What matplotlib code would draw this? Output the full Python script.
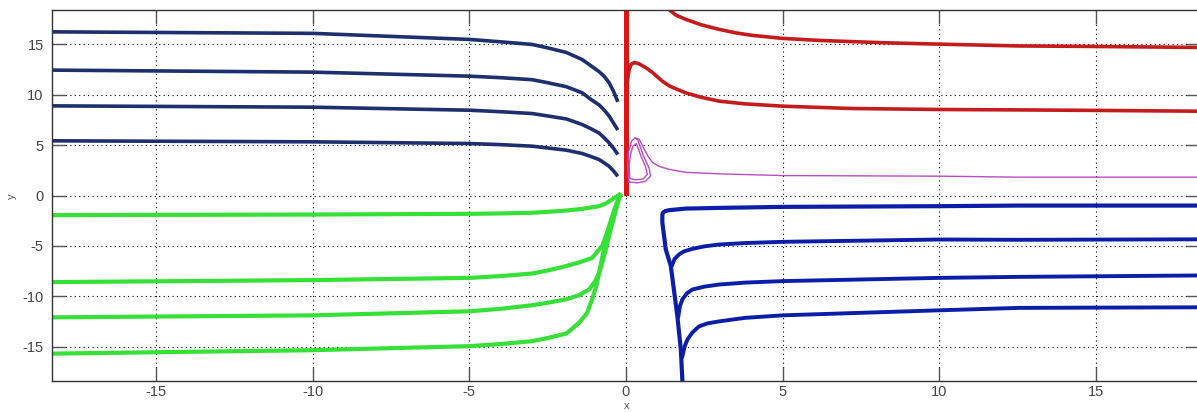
import matplotlib
matplotlib.use("Agg")
import matplotlib.pyplot as plt

plt.rcParams["font.family"] = ["Liberation Sans", "DejaVu Sans"]
plt.rcParams["axes.unicode_minus"] = False

# --- data --------------------------------------------------------------
# navy trajectories, upper-left quadrant
navy_x = [-18.3, -10.0, -5.0, -4.0, -3.0, -2.5, -1.9, -1.4, -1.1, -0.86, -0.7, -0.54, -0.4, -0.26]
navy_y = [
    [16.25, 16.1, 15.5, 15.26, 15.0, 14.66, 14.2, 13.5, 12.84, 12.3, 11.85, 11.2, 10.36, 9.3],
    [12.45, 12.25, 11.85, 11.7, 11.5, 11.2, 10.8, 10.2, 9.5, 9.0, 8.5, 7.9, 7.2, 6.5],
    [8.9, 8.77, 8.47, 8.32, 8.14, 7.9, 7.6, 7.05, 6.6, 6.2, 5.75, 5.23, 4.7, 4.07],
    [5.43, 5.33, 5.16, 5.05, 4.9, 4.72, 4.5, 4.17, 3.85, 3.57, 3.25, 2.9, 2.45, 1.9],
]

# green trajectories, lower-left quadrant (all end near the origin)
green_x = [
    [-18.3, -10.0, -5.0, -4.0, -3.0, -2.5, -1.9, -1.4, -0.86, -0.65, -0.45, -0.3, -0.17],
    [-18.3, -10.0, -5.0, -4.0, -3.0, -2.5, -1.9, -1.5, -1.08, -0.76, -0.65, -0.54,
     -0.45, -0.36, -0.26, -0.17],
    [-18.3, -10.0, -5.0, -4.0, -3.0, -2.5, -1.9, -1.5, -1.18, -1.0, -0.86, -0.78,
     -0.7, -0.5, -0.3, -0.17],
    [-18.3, -10.0, -5.0, -4.0, -3.0, -2.5, -1.9, -1.5, -1.25, -1.08, -0.95, -0.86,
     -0.75, -0.65, -0.5, -0.36, -0.17],
]
green_y = [
    [-1.95, -1.89, -1.82, -1.78, -1.72, -1.62, -1.49, -1.33, -1.06, -0.8, -0.4, -0.1, 0.2],
    [-8.6, -8.4, -8.18, -8.0, -7.75, -7.45, -7.0, -6.65, -6.2, -5.0, -4.1, -3.05,
     -2.2, -1.3, -0.5, 0.2],
    [-12.1, -11.9, -11.5, -11.25, -10.9, -10.65, -10.3, -9.9, -9.33, -8.6, -7.7, -6.9,
     -6.0, -3.5, -1.2, 0.2],
    [-15.7, -15.36, -14.96, -14.75, -14.47, -14.15, -13.7, -12.65, -11.7, -10.3, -9.0,
     -7.7, -6.0, -4.4, -2.8, -1.4, 0.2],
]

# red: vertical segment on x = 0 and two trajectories to the right
red_vert_y = [0.2, 18.42]
red_a_x = [1.37, 1.6, 1.9, 2.4, 2.97, 3.5, 4.03, 5.0, 6.16, 8.29, 10.0, 12.54, 15.0, 18.3]
red_a_y = [18.47, 17.9, 17.5, 16.95, 16.5, 16.15, 15.9, 15.6, 15.4, 15.16, 15.03, 14.85,
           14.8, 14.7]
red_b_x = [0.04, 0.1, 0.17, 0.26, 0.4, 0.63, 0.85, 1.16, 1.4, 1.9, 2.4, 2.97, 3.8, 5.0,
           7.2, 10.0, 12.5, 15.0, 18.3]
red_b_y = [11.3, 12.5, 13.05, 13.2, 13.1, 12.7, 12.2, 11.35, 10.85, 10.2, 9.75, 9.37,
           9.1, 8.87, 8.64, 8.54, 8.5, 8.45, 8.37]

# magenta: small double loop next to the origin and its tail
mag_outer_x = [0.1, 0.35, 0.62, 0.78, 0.74, 0.55, 0.38, 0.29, 0.18, 0.08, 0.05, 0.07, 0.1]
mag_outer_y = [1.35, 1.25, 1.4, 1.9, 2.7, 4.0, 5.5, 5.72, 5.4, 4.3, 3.0, 2.0, 1.35]
mag_inner_x = [0.12, 0.3, 0.55, 0.68, 0.62, 0.48, 0.33, 0.22, 0.14, 0.1, 0.12]
mag_inner_y = [1.7, 1.55, 1.65, 2.1, 2.9, 3.9, 5.15, 4.9, 4.0, 3.0, 1.7]
mag_tail_x = [0.29, 0.42, 0.55, 0.7, 0.84, 1.05, 1.37, 1.9, 2.97, 5.0, 10.0, 12.5, 18.3]
mag_tail_y = [5.72, 5.6, 4.8, 3.9, 3.3, 2.9, 2.6, 2.3, 2.15, 1.98, 1.92, 1.82, 1.82]

# blue: steep spine from the bottom and three branches to the right
blue_spine_x = [1.8, 1.75, 1.64, 1.43, 1.27, 1.16, 1.16, 1.18, 1.25, 1.37, 1.9, 2.97,
                5.0, 10.0, 12.54, 18.3]
blue_spine_y = [-18.42, -15.3, -12.0, -7.0, -5.36, -2.7, -1.89, -1.7, -1.55, -1.46,
                -1.3, -1.23, -1.13, -1.06, -1.0, -1.0]
blue_branch_x = [
    [1.48, 1.55, 1.69, 1.85, 2.12, 2.5, 2.97, 3.8, 5.0, 10.0, 12.54, 18.3],
    [1.67, 1.72, 1.8, 1.95, 2.12, 2.5, 2.97, 3.8, 5.0, 10.0, 12.54, 18.3],
    [1.8, 1.87, 1.96, 2.12, 2.33, 2.6, 2.97, 3.8, 5.0, 10.0, 12.54, 18.3],
]
blue_branch_y = [
    [-6.85, -6.3, -5.86, -5.55, -5.3, -5.05, -4.87, -4.72, -4.6, -4.37, -4.4, -4.35],
    [-12.0, -11.0, -10.3, -9.7, -9.33, -9.05, -8.84, -8.65, -8.5, -8.18, -8.08, -7.94],
    [-15.96, -15.0, -14.3, -13.6, -13.0, -12.7, -12.5, -12.15, -11.9, -11.4, -11.16, -11.1],
]

ticks = [-15, -10, -5, 0, 5, 10, 15]

# --- figure -------------------------------------------------------------
fig = plt.figure(figsize=(11.97, 4.12), dpi=100)
ax = fig.add_axes([52 / 1197, 31 / 412, 1148 / 1197, 371 / 412])

navy = "#1d2f6c"
green = "#36e036"
red = "#c41c1c"
blue = "#0c1ea8"
mag = "#b84cc4"

for ys in navy_y:
    ax.plot(navy_x, ys, color=navy, lw=2.6, solid_capstyle="butt")
for xs, ys in zip(green_x, green_y):
    ax.plot(xs, ys, color=green, lw=3.0, solid_capstyle="butt")
ax.plot([0, 0], red_vert_y, color="#e01414", lw=3.6)
ax.plot(red_a_x, red_a_y, color=red, lw=2.6)
ax.plot(red_b_x, red_b_y, color=red, lw=2.6)
ax.plot(mag_outer_x, mag_outer_y, color=mag, lw=1.0)
ax.plot(mag_inner_x, mag_inner_y, color=mag, lw=1.0)
ax.plot(mag_tail_x, mag_tail_y, color=mag, lw=1.0)
ax.plot(blue_spine_x, blue_spine_y, color=blue, lw=3.0)
for xs, ys in zip(blue_branch_x, blue_branch_y):
    ax.plot(xs, ys, color=blue, lw=2.8)

ax.set_xlim(-18.32, 18.32)
ax.set_ylim(-18.42, 18.42)
ax.set_xticks(ticks)
ax.set_yticks(ticks)
ax.grid(True, color="black", linestyle=(0, (1, 3)), linewidth=0.8)
ax.set_axisbelow(True)
ax.tick_params(direction="in", length=10, width=1, color="#555555",
               labelcolor="#444444", labelsize=10.5, top=True, right=True,
               pad=6)
ax.tick_params(axis="x", pad=3)
for sp in ax.spines.values():
    sp.set_color("#333333")
    sp.set_linewidth(1.0)
fig.text(627 / 1197, 1 - 406 / 412, "x", color="#555555", fontsize=8,
         ha="center", va="center")
fig.text(12 / 1197, 1 - 196 / 412, "y", color="#555555", fontsize=8,
         ha="center", va="center", rotation=90)

fig.savefig("out.png", dpi=100)
